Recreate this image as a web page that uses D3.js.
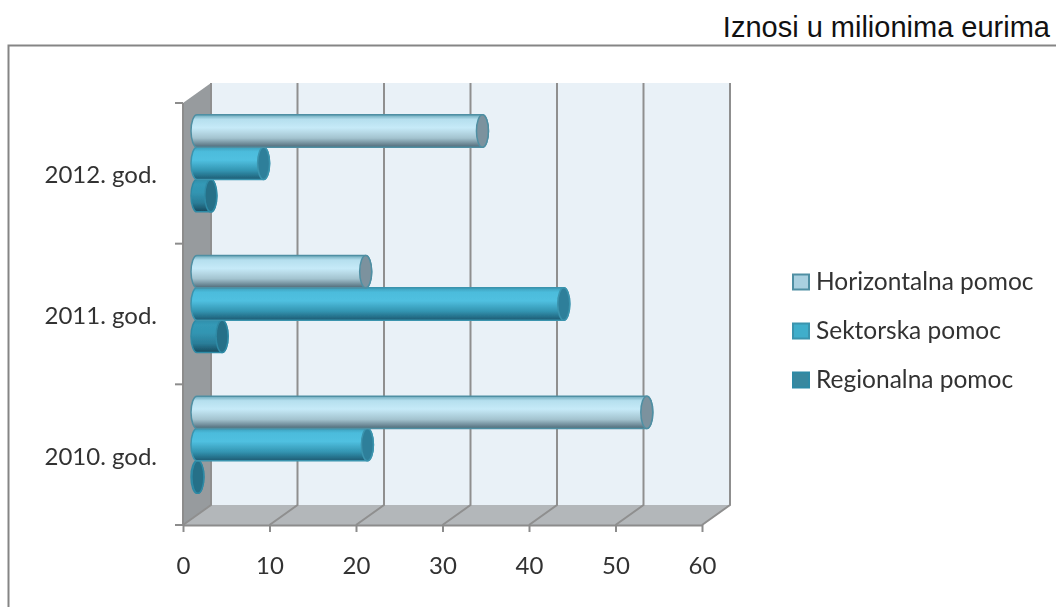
<!DOCTYPE html>
<html lang="en">

<head>
  <meta charset="utf-8">
  <title>Iznosi u milionima eurima</title>
  <script src="https://d3js.org/d3.v7.min.js"></script>
  <style type="text/css">
    html, body { margin: 0; padding: 0; background: #fff; overflow: hidden; }
    .axis path.domain { stroke: #8c8c8c; stroke-width: 2px; }
    .axis line { stroke: #8c8c8c; stroke-width: 2px; }
    .axis text, .catLabel { font-family: Lato, sans-serif; font-size: 24px; fill: #333; }
    .legendLabel { font-family: Lato, sans-serif; font-size: 24.5px; fill: #333; }
    #unitTitle { font-family: "Liberation Sans", sans-serif; font-size: 29px; fill: #111; text-anchor: end; }
  </style>
</head>

<body>
  <script>
    //data
    const categories = ["2012. god.", "2011. god.", "2010. god."];
    const seriesNames = ["Horizontalna pomoc", "Sektorska pomoc", "Regionalna pomoc"];
    const horizontalna = [33, 19.5, 52];
    const sektorska = [7.7, 42.4, 19.7];
    const regionalna = [1.6, 2.9, 0.1];
    const seriesValues = [horizontalna, sektorska, regionalna];
    const xTicks = [0, 10, 20, 30, 40, 50, 60];

    //config settings
    const width = 1056, height = 607;
    const plot = { left: 183, right: 702, top: 103, bottom: 525 };
    const depth = { x: 28, y: -20 };
    const capRx = 6;
    const palette = [
      { id: "gradH", cap: "#7b929e", edge: "#4f8fa3", swatch: "#a9d0e0", stops: ["#6aa8ba", "#b5dfee", "#c6eaf8", "#a3c3cf", "#4f6a78"] },
      { id: "gradS", cap: "#2f7f9a", edge: "#3b94ae", swatch: "#41aecb", stops: ["#3c9fbb", "#4cbcdc", "#50c0e0", "#3395b2", "#1d5a72"] },
      { id: "gradR", cap: "#256f88", edge: "#2f8aa5", swatch: "#37889f", stops: ["#2f8eaa", "#3499b6", "#3295b2", "#2a7d98", "#174a5e"] }
    ];

    //scales
    const xScale = d3.scaleLinear().domain([0, 60]).range([plot.left, plot.right]);
    const yScale = d3.scaleBand().domain(categories).range([plot.top, plot.bottom])
      .paddingInner(0.31).paddingOuter(0.155);
    const ySeries = d3.scaleBand().domain(seriesNames).range([0, yScale.bandwidth()]);

    const svg = d3.select("body").append("svg")
      .attr("width", width).attr("height", height);

    //gradients
    const defs = svg.append("defs");
    palette.forEach(p => {
      const g = defs.append("linearGradient").attr("id", p.id)
        .attr("x1", 0).attr("y1", 0).attr("x2", 0).attr("y2", 1);
      [0, 0.14, 0.4, 0.72, 1].forEach((o, i) => {
        g.append("stop").attr("offset", o).attr("stop-color", p.stops[i]);
      });
    });
    const soft = defs.append("filter").attr("id", "soft");
    soft.append("feGaussianBlur").attr("stdDeviation", 0.5);

    //frame
    svg.append("path")
      .attr("d", `M8.5,${height} V45.5 H${width}`)
      .attr("fill", "none").attr("stroke", "#858585").attr("stroke-width", 2);
    svg.append("text").attr("id", "unitTitle").attr("x", 1050).attr("y", 37)
      .text("Iznosi u milionima eurima");

    const chart = svg.append("g").attr("filter", "url(#soft)");

    //walls
    const xL = xScale(0), xR = xScale(60);
    chart.append("polygon").attr("fill", "#e9f1f7")
      .attr("points", [[xL + depth.x, plot.top + depth.y], [xR + depth.x, plot.top + depth.y],
        [xR + depth.x, plot.bottom + depth.y], [xL + depth.x, plot.bottom + depth.y]].join(" "));
    chart.append("polygon").attr("fill", "#b3b7ba")
      .attr("points", [[xL, plot.bottom], [xL + depth.x, plot.bottom + depth.y],
        [xR + depth.x, plot.bottom + depth.y], [xR, plot.bottom]].join(" "));
    chart.append("polygon").attr("fill", "#979b9e")
      .attr("points", [[xL, plot.top], [xL + depth.x, plot.top + depth.y],
        [xL + depth.x, plot.bottom + depth.y], [xL, plot.bottom]].join(" "));

    //grid on floor and back wall
    chart.selectAll("path.grid").data(xTicks).join("path")
      .attr("class", "grid")
      .attr("fill", "none").attr("stroke", "#8f8f8f").attr("stroke-width", 2)
      .attr("d", d => `M${xScale(d)},${plot.bottom} L${xScale(d) + depth.x},${plot.bottom + depth.y} V${plot.top + depth.y}`);

    //axes
    chart.append("g").attr("class", "axis")
      .attr("transform", `translate(0,${plot.bottom})`)
      .call(d3.axisBottom(xScale).tickValues(xTicks).tickSize(7).tickSizeOuter(0).tickPadding(25).tickFormat(d3.format("d")));
    chart.append("line").attr("stroke", "#8c8c8c").attr("stroke-width", 2)
      .attr("x1", xL).attr("x2", xL).attr("y1", plot.top).attr("y2", plot.bottom);
    const boundaries = categories.map(c => yScale(c) - yScale.step() * yScale.paddingInner() / 2)
      .concat([plot.bottom]);
    chart.selectAll("line.yTick").data(boundaries).join("line")
      .attr("class", "yTick")
      .attr("stroke", "#8c8c8c").attr("stroke-width", 2)
      .attr("x1", xL - 8).attr("x2", xL)
      .attr("y1", d => d).attr("y2", d => d);

    chart.selectAll("text.catLabel").data(categories).join("text")
      .attr("class", "catLabel")
      .attr("x", 157).attr("text-anchor", "end")
      .attr("y", d => yScale(d) + yScale.bandwidth() / 2 + 10)
      .text(d => d);

    //cylinders, lowest first so the upper one lies over it
    const barX0 = xScale(0) + depth.x / 2;
    const unit = xScale(1) - xScale(0);
    d3.range(seriesNames.length).reverse().forEach(s => {
      const p = palette[s];
      categories.forEach((c, i) => {
        const v = seriesValues[s][i];
        const top = yScale(c) + ySeries(seriesNames[s]) + depth.y / 2;
        const h = ySeries.bandwidth();
        const x1 = barX0 + v * unit;
        const ry = h / 2;
        const g = chart.append("g").attr("class", "bar");
        g.append("path")
          .attr("fill", `url(#${p.id})`).attr("stroke", p.edge).attr("stroke-width", 1.5)
          .attr("d", `M${barX0},${top} H${x1} A${capRx},${ry} 0 0 1 ${x1},${top + h} H${barX0} A${capRx},${ry} 0 0 1 ${barX0},${top} Z`);
        g.append("ellipse")
          .attr("cx", x1).attr("cy", top + ry).attr("rx", capRx).attr("ry", ry)
          .attr("fill", p.cap).attr("stroke", p.edge).attr("stroke-width", 1.5);
      });
    });

    //legend
    const legendY = d3.scalePoint().domain(seriesNames).range([282, 380]);
    const legend = chart.selectAll("g.legendItem").data(seriesNames).join("g")
      .attr("class", "legendItem")
      .attr("transform", d => `translate(793,${legendY(d)})`);
    legend.append("rect")
      .attr("x", 0).attr("y", -7.5).attr("width", 16).attr("height", 15)
      .attr("fill", (d, i) => palette[i].swatch)
      .attr("stroke", (d, i) => palette[i].edge).attr("stroke-width", 2);
    legend.append("text").attr("class", "legendLabel")
      .attr("x", 23).attr("y", 8)
      .text(d => d);
  </script>
</body>
</html>
